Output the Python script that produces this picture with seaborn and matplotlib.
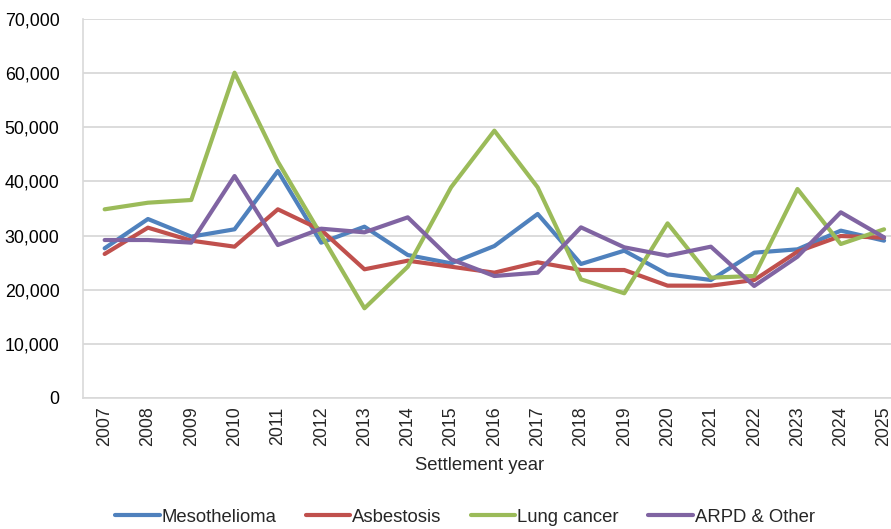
import matplotlib
matplotlib.use("Agg")
import matplotlib.pyplot as plt
import seaborn as sns
import pandas as pd

years = [str(y) for y in range(2007, 2026)]
mesothelioma = [27650, 33060, 29800, 31160, 41930, 28690, 31640, 26410, 24870, 28070,
                33990, 24750, 27210, 22840, 21790, 26840, 27460, 30910, 29060]
asbestosis = [26600, 31460, 29060, 27950, 34850, 31030, 23770, 25360, 24250, 23150,
              25060, 23640, 23640, 20750, 20750, 21790, 27030, 29920, 29610]
lung_cancer = [34850, 36070, 36570, 60080, 43650, 30100, 16570, 24250, 38910, 49380,
               38910, 21920, 19340, 32260, 22230, 22530, 38600, 28440, 31160]
arpd_other = [29180, 29180, 28690, 41000, 28260, 31270, 30600, 33370, 25620, 22530,
              23150, 31520, 27830, 26290, 27950, 20690, 26100, 34300, 29670]

series_names = ["Mesothelioma", "Asbestosis", "Lung cancer", "ARPD & Other"]
colors = ["#4F81BD", "#C0504D", "#9BBB59", "#8064A2"]

rows = []
for name, vals in zip(series_names, [mesothelioma, asbestosis, lung_cancer, arpd_other]):
    for i, v in enumerate(vals):
        rows.append({"idx": i, "value": v, "series": name})
df = pd.DataFrame(rows)

sns.set_style("white")
plt.rcParams["font.family"] = ["Liberation Sans", "DejaVu Sans"]

fig = plt.figure(figsize=(8.91, 5.29), dpi=100)
W, H = 891, 529
ax = fig.add_axes([83 / W, 1 - 398 / H, (891 - 83) / W, (398 - 19) / H])

sns.lineplot(data=df, x="idx", y="value", hue="series", hue_order=series_names,
             palette=colors, linewidth=3, ax=ax, legend=True)

ax.set_yticks(range(0, 70001, 10000))
ax.set_yticklabels([f"{v:,}" for v in range(0, 70001, 10000)], fontsize=12.8, color="#000000")
ax.set_xticks(range(len(years)))
ax.set_xticklabels(years, rotation=90, fontsize=12.8)
ax.set_xticks([i - 0.5 for i in range(len(years) + 1)], minor=True)
ax.set_ylim(0, 70000)
ax.set_xlim(-0.5, 18.16)
ax.tick_params(axis="x", which="major", length=0, pad=6)
ax.tick_params(axis="x", which="minor", length=5, color="#D9D9D9", width=1.2)
ax.tick_params(axis="y", length=5, color="#D9D9D9", width=1.2, pad=12)
ax.yaxis.grid(True, color="#D9D9D9", linewidth=1.3)
ax.set_axisbelow(True)
for s in ["top", "right"]:
    ax.spines[s].set_visible(False)
ax.spines["left"].set_color("#D9D9D9")
ax.spines["bottom"].set_color("#D9D9D9")
ax.spines["left"].set_linewidth(1.2)
ax.spines["bottom"].set_linewidth(1.2)
ax.set_xlabel("Settlement year", fontsize=13.3, labelpad=9)
ax.xaxis.set_label_coords((480 - 83) / 808, -0.115)
ax.xaxis.label.set_verticalalignment("center")
ax.xaxis.set_label_coords((480 - 83) / 808, 1 - (466 - 19) / (398 - 19))
ax.set_ylabel("")

handles, labels = ax.get_legend_handles_labels()
ax.get_legend().remove()
fig.legend(handles, labels, loc="center", bbox_to_anchor=(465 / W, 1 - 517 / H), ncol=4,
           frameon=False, fontsize=13.3, handlelength=2.4, handletextpad=0.1,
           columnspacing=1.6)

fig.savefig("out.png", dpi=100)
